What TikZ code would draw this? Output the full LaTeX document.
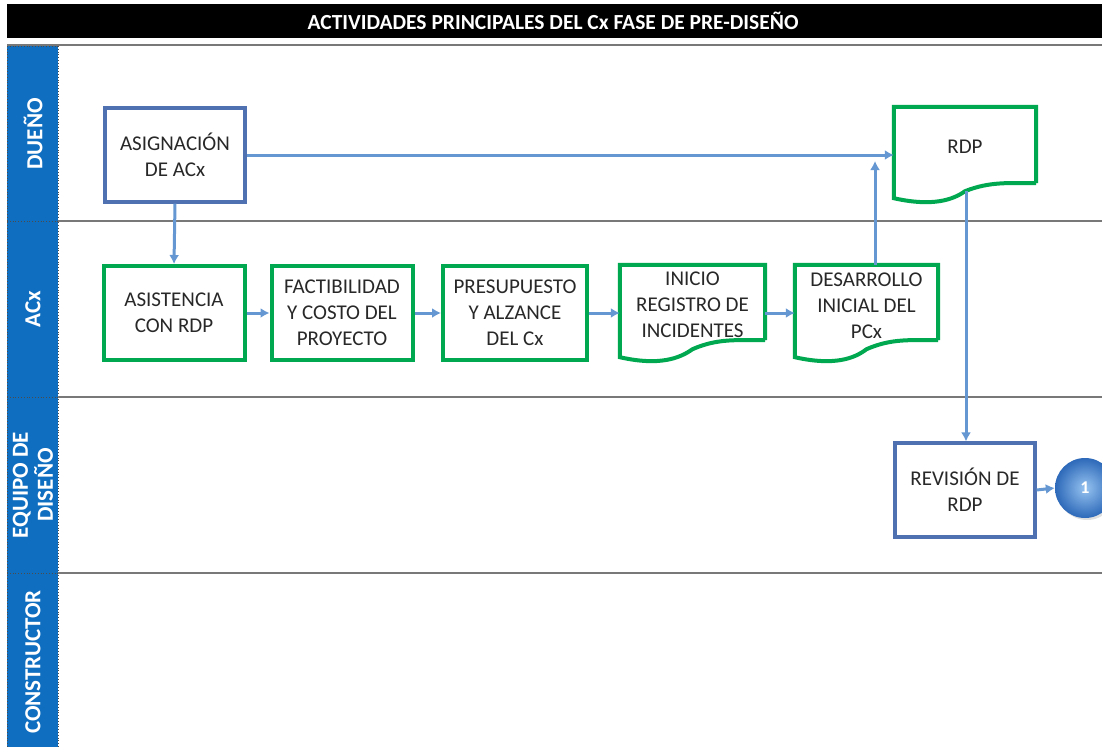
\documentclass[tikz,border=0pt]{standalone}
\usepackage{fontspec}
\setmainfont{Carlito}
\usetikzlibrary{arrows.meta,shadings,shadows}
\definecolor{boxblue}{RGB}{79,113,178}
\definecolor{grn}{RGB}{0,168,80}
\definecolor{arrblue}{RGB}{101,152,210}
\definecolor{laneblue}{RGB}{15,110,192}
\definecolor{txt}{RGB}{40,40,40}
\definecolor{sep}{RGB}{120,120,120}
\definecolor{ballin}{RGB}{150,195,240}
\definecolor{ballout}{RGB}{45,105,185}
\tikzset{
  lbl/.style={font=\fontsize{21}{26}\selectfont, text=txt, align=center},
  blbox/.style={lbl, draw=boxblue, line width=3.2pt, fill=white, minimum width=140pt, minimum height=94pt, inner sep=1pt},
  grbox/.style={lbl, draw=grn, line width=4pt, fill=white, minimum width=141pt, minimum height=94pt, inner sep=1pt},
  docnode/.style={draw=none, minimum width=144pt, minimum height=76pt, inner sep=1pt},
  docline/.style={draw=grn, line width=4pt, line join=miter},
  arr/.style={draw=arrblue, line width=3pt, -{Latex[length=9pt,width=10pt]}},
  lanelbl/.style={font=\fontsize{23}{25}\selectfont\bfseries, text=white, rotate=90, align=center},
  laneline/.style={draw=sep, line width=1.6pt}
}
\begin{document}
\begin{tikzpicture}[x=1pt,y=-1pt]
\useasboundingbox (0,0) rectangle (1102,747);
\fill[white] (0,0) rectangle (1102,747);
% title
\fill[black] (7,4) rectangle (1102,38);
\node[font=\fontsize{21.5}{24}\selectfont\bfseries, text=white] (title) at (553,21) {ACTIVIDADES PRINCIPALES DEL Cx FASE DE PRE-DISEÑO};
% lane header column
\fill[laneblue] (7,46) rectangle (58,747);
\draw[black!70, line width=0.8pt, dotted] (7,46) -- (7,747) (58,46) -- (58,747) (7,46) -- (58,46)
  (7,221) -- (58,221) (7,397) -- (58,397) (7,573) -- (58,573);
% lane lines
\draw[laneline] (7,45) -- (1102,45);
\draw[laneline] (58,221) -- (1102,221);
\draw[laneline] (58,397) -- (1102,397);
\draw[laneline] (58,573) -- (1102,573);
% lane labels
\node[lanelbl] (l1) at (33,134) {DUEÑO};
\node[lanelbl] (l2) at (33,309) {ACx};
\node[lanelbl] (l3) at (33,485) {EQUIPO DE\\DISEÑO};
\node[lanelbl] (l4) at (33,662) {CONSTRUCTOR};
% nodes
\node[blbox] (asig) at (175,155) {ASIGNACIÓN\\DE ACx};
\node[docnode, minimum width=142pt] (rdp) at (965,145) {};
\node[lbl] (rdptxt) at (965,147) {RDP};
\node[grbox] (asist) at (174,313) {ASISTENCIA\\CON RDP};
\node[grbox] (fact) at (342,313) {FACTIBILIDAD\\Y COSTO DEL\\PROYECTO};
\node[grbox, minimum width=144pt] (pres) at (515,313) {PRESUPUESTO\\Y ALZANCE\\DEL Cx};
\node[docnode, minimum width=145pt, minimum height=75pt] (ini) at (692.5,302.5) {};
\node[lbl] (initxt) at (692.5,305) {INICIO\\REGISTRO DE\\INCIDENTES};
\node[docnode, minimum width=143pt, minimum height=75pt] (des) at (866.5,302.5) {};
\node[lbl] (destxt) at (866.5,306) {DESARROLLO\\INICIAL DEL\\PCx};
\node[blbox] (rev) at (965,490) {REVISIÓN DE\\RDP};
\node[circle, minimum size=60pt, inner sep=0pt, shading=radial, inner color=ballin, outer color=ballout, text=white, font=\fontsize{18}{18}\selectfont\bfseries, drop shadow={opacity=0.25, shadow xshift=2pt, shadow yshift=-2pt}] (c1) at (1085,488) {1};
% document shapes
\draw[docline] (rdp.south east) -- (rdp.north east) -- (rdp.north west) -- ([yshift=-15pt]rdp.south west)
  .. controls ([xshift=40pt,yshift=-24pt]rdp.south west) and ([xshift=60pt,yshift=-16pt]rdp.south west) .. ([xshift=0pt,yshift=-8pt]rdp.south)
  .. controls ([xshift=25pt,yshift=2pt]rdp.south) and ([xshift=45pt,yshift=0pt]rdp.south) .. (rdp.south east);
\foreach \d in {ini,des}{
\draw[docline] (\d.south east) -- (\d.north east) -- (\d.north west) -- ([yshift=-17pt]\d.south west)
  .. controls ([xshift=40pt,yshift=-26pt]\d.south west) and ([xshift=60pt,yshift=-18pt]\d.south west) .. ([yshift=-9pt]\d.south)
  .. controls ([xshift=25pt,yshift=2pt]\d.south) and ([xshift=45pt,yshift=0pt]\d.south) .. (\d.south east);
}
\coordinate (rdpb) at ([xshift=1pt,yshift=-8pt]rdp.south);
\coordinate (jn) at (875,161);
% connectors
\draw[arr] (asig.east) -- (asig.east -| rdp.west);
\draw[arr] (asig.south) -- (asist.north);
\draw[arr] (asist.east) -- (fact.west);
\draw[arr] (fact.east) -- (pres.west);
\draw[arr] (pres.east) -- (pres.east -| ini.west);
\draw[arr] (pres.east -| ini.east) -- (pres.east -| des.west);
\draw[arr] (jn |- des.north) -- (jn);
\draw[arr] (rdpb) -- (rdpb |- rev.north);
\draw[arr] (rev.east) -- (c1.west);
\end{tikzpicture}
\end{document}
